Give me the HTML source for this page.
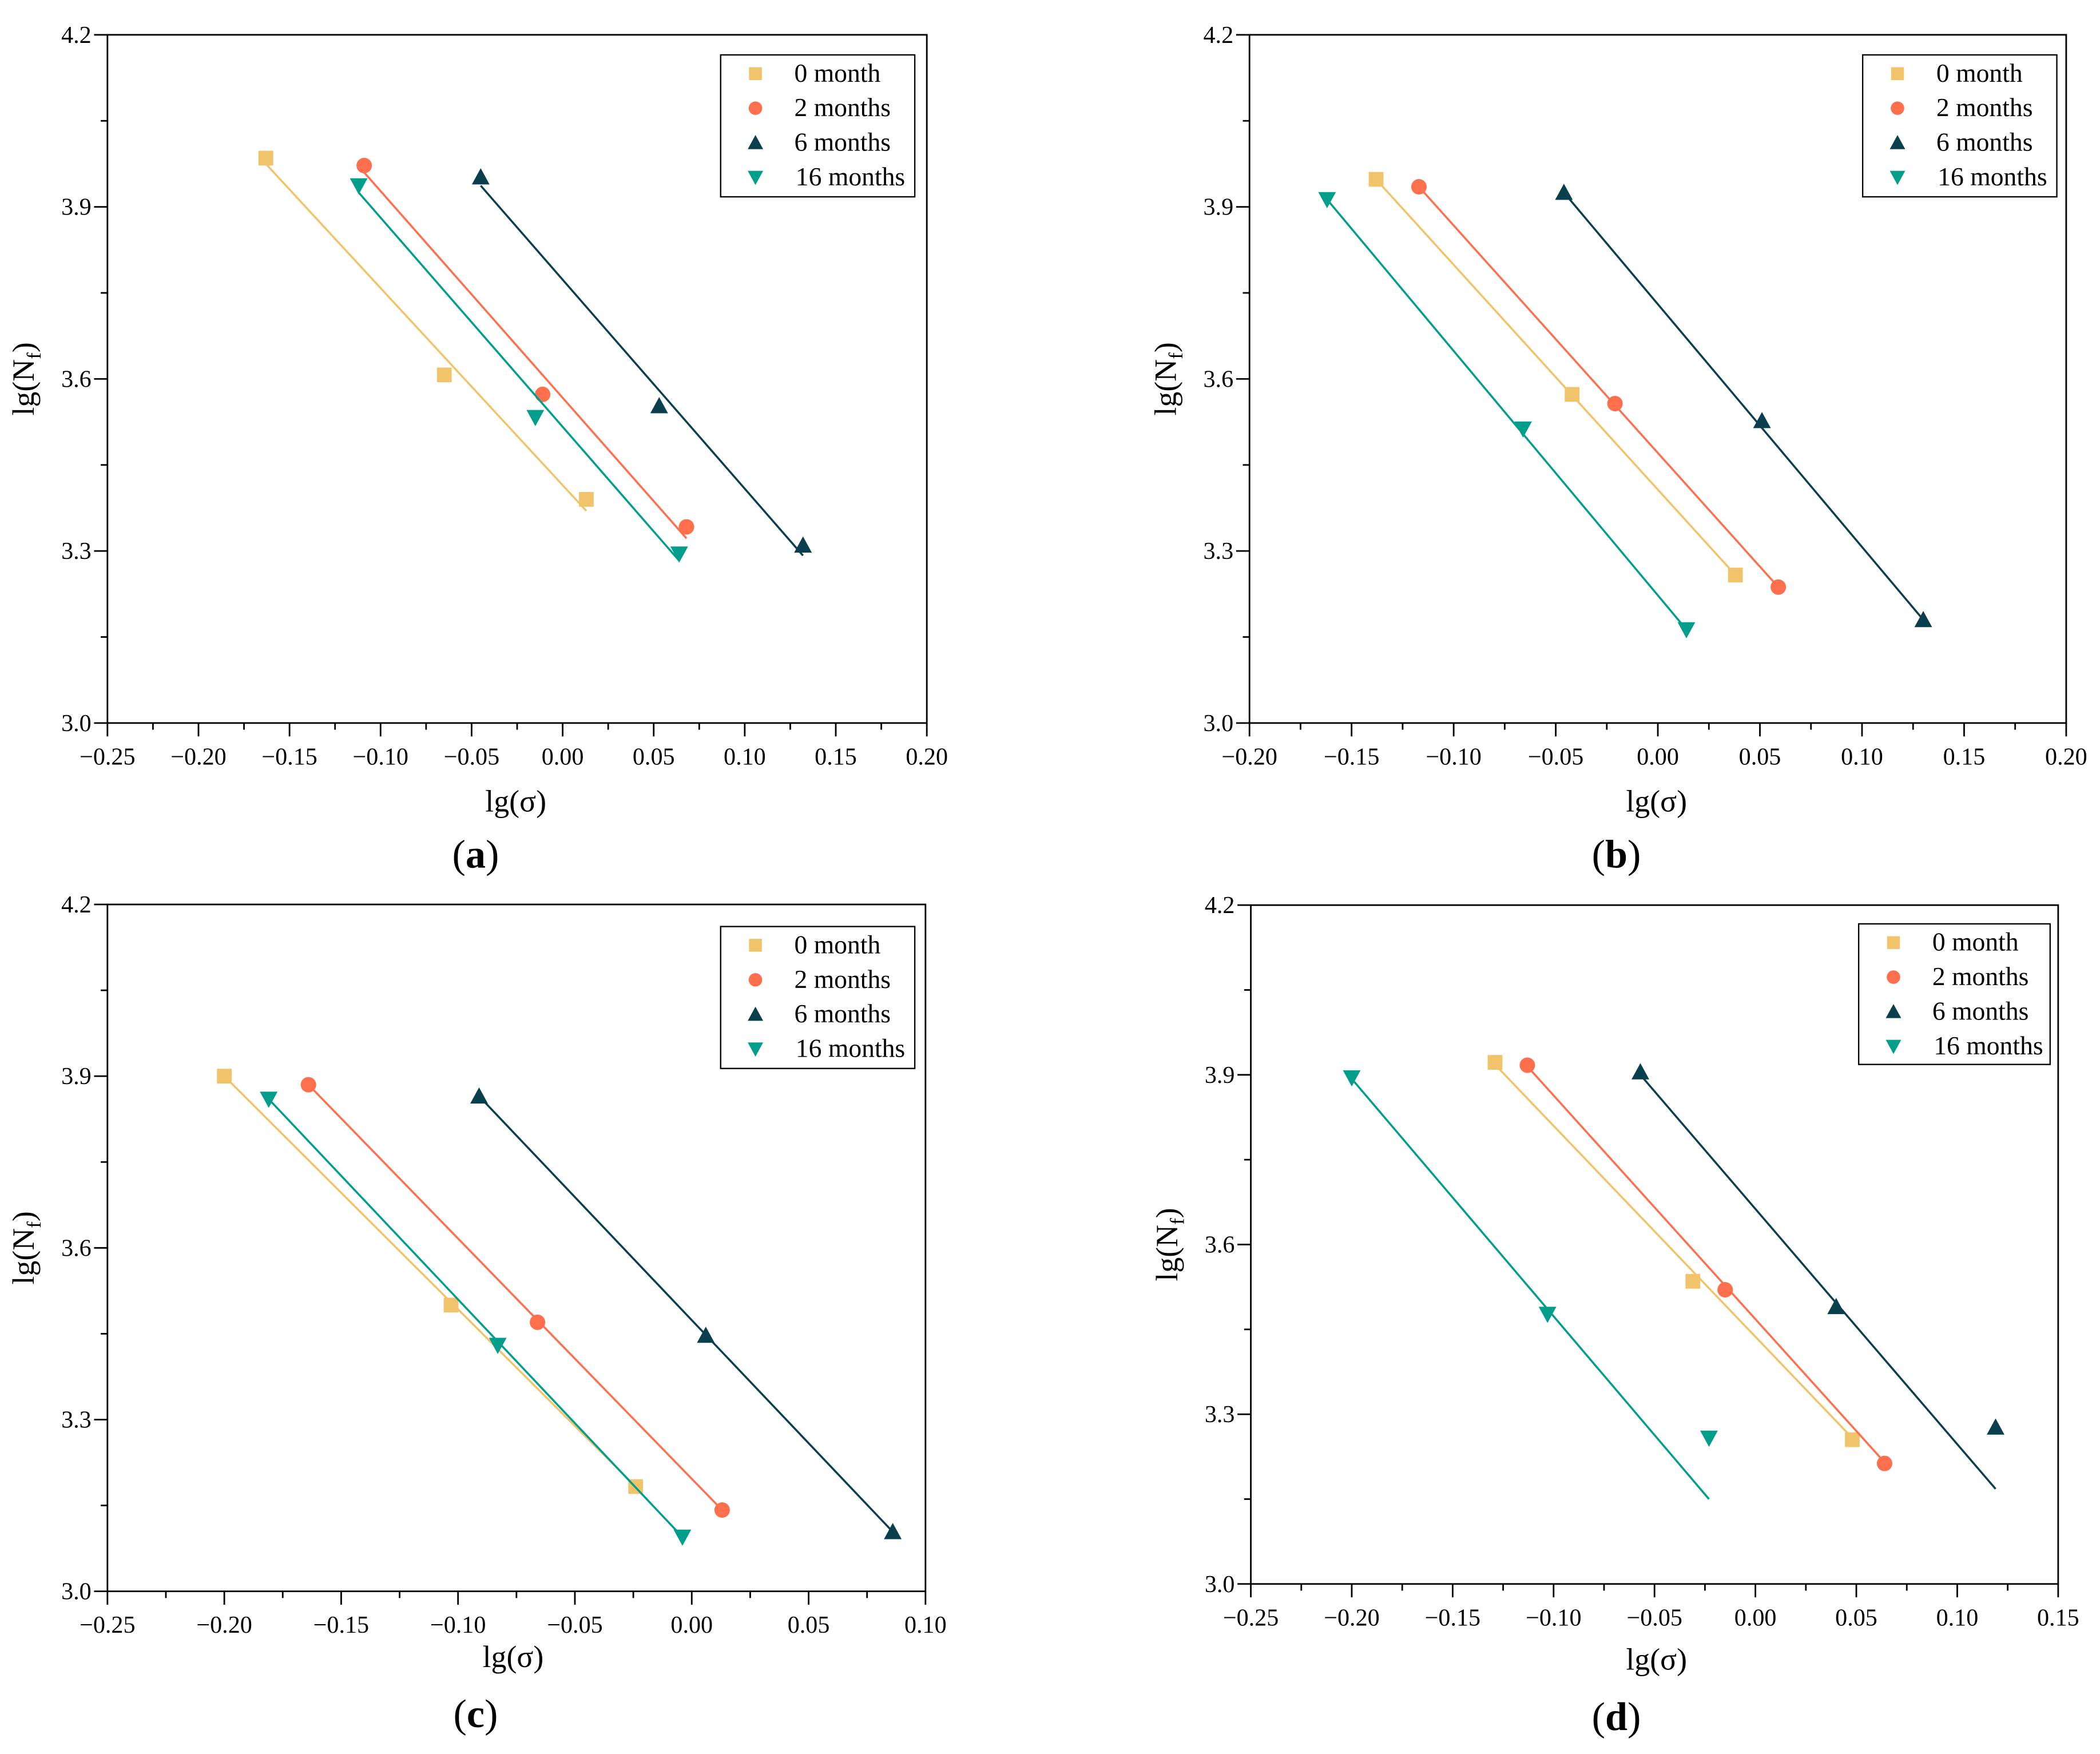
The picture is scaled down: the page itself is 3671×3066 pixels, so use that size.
<!DOCTYPE html>
<html><head><meta charset="utf-8"><style>
html,body{margin:0;padding:0;background:#fff;}
svg{display:block;}
svg text{font-family:"Liberation Serif","DejaVu Serif","Times New Roman",serif;}
</style></head><body>
<svg id="fig" width="3671" height="3066" viewBox="0 0 1568 1310" xmlns="http://www.w3.org/2000/svg"></svg>
<script>
const seriesNames = ["0 month","2 months","6 months","16 months"];
const seriesColors = ["#f1c36a","#fe6f4e","#0a3f4e","#009e8b"];
const seriesShapes = ["square","circle","up","down"];

// Panel (a)
const aX = [[-0.163,-0.065,0.013],[-0.109,-0.011,0.068],[-0.045,0.053,0.132],[-0.112,-0.015,0.064]];
const aY = [[3.985,3.607,3.390],[3.972,3.573,3.342],[3.952,3.553,3.310],[3.937,3.533,3.295]];
const aFit = [[3.975,3.370],[3.960,3.322],[3.937,3.292],[3.925,3.283]];
// Panel (b)
const bX = [[-0.138,-0.042,0.038],[-0.117,-0.021,0.059],[-0.046,0.051,0.130],[-0.162,-0.066,0.014]];
const bY = [[3.948,3.573,3.258],[3.935,3.557,3.237],[3.925,3.527,3.180],[3.913,3.513,3.163]];
const bFit = [[3.948,3.258],[3.935,3.237],[3.925,3.180],[3.913,3.163]];
// Panel (c)
const cX = [[-0.200,-0.103,-0.024],[-0.164,-0.066,0.013],[-0.091,0.006,0.086],[-0.181,-0.083,-0.004]];
const cY = [[3.900,3.500,3.183],[3.885,3.470,3.142],[3.865,3.447,3.104],[3.860,3.430,3.095]];
const cFit = [[3.900,3.183],[3.885,3.142],[3.865,3.104],[3.860,3.095]];
// Panel (d)
const dX = [[-0.129,-0.031,0.048],[-0.113,-0.015,0.064],[-0.057,0.040,0.119],[-0.200,-0.103,-0.023]];
const dY = [[3.922,3.535,3.255],[3.917,3.520,3.213],[3.905,3.490,3.277],[3.895,3.477,3.258]];
const dFit = [[3.918,3.258],[3.915,3.215],[3.900,3.168],[3.893,3.150]];

const xTicksA = ["−0.25","−0.20","−0.15","−0.10","−0.05","0.00","0.05","0.10","0.15","0.20"];
const xTicksB = ["−0.20","−0.15","−0.10","−0.05","0.00","0.05","0.10","0.15","0.20"];
const xTicksC = ["−0.25","−0.20","−0.15","−0.10","−0.05","0.00","0.05","0.10"];
const xTicksD = ["−0.25","−0.20","−0.15","−0.10","−0.05","0.00","0.05","0.10","0.15"];
const yTicks = ["3.0","3.3","3.6","3.9","4.2"];

const NS="http://www.w3.org/2000/svg";
const FF="'Liberation Serif', 'DejaVu Serif', 'Times New Roman', serif";
const fig=document.getElementById('fig');
function mk(tag,attrs,parent){const e=document.createElementNS(NS,tag);for(const k in attrs)e.setAttribute(k,attrs[k]);if(tag==='text')e.setAttribute('font-family',FF);(parent||fig).appendChild(e);return e;}
function marker(g,shape,cx,cy,color,s){
  let e;
  if(shape==="square") e=mk('rect',{x:cx-s,y:cy-s,width:2*s,height:2*s,fill:color},g);
  else if(shape==="circle") e=mk('circle',{cx:cx,cy:cy,r:s*1.05,fill:color},g);
  else if(shape==="up") e=mk('polygon',{points:`${cx-s*1.2},${cy+s} ${cx+s*1.2},${cy+s} ${cx},${cy-s*1.2}`,fill:color},g);
  else e=mk('polygon',{points:`${cx-s*1.2},${cy-s} ${cx+s*1.2},${cy-s} ${cx},${cy+s*1.2}`,fill:color},g);
  return e;
}
function panel(id,box,xmin,xmax,xt,X,Y,FIT,leg,xlab,cap){
  const g=mk('g',{});
  
  
  const [x0,x1,yt,yb]=box;
  const sx=v=>x0+(v-xmin)/(xmax-xmin)*(x1-x0);
  const sy=v=>yb-(v-3.0)/1.2*(yb-yt);
  const frame=mk('rect',{x:x0,y:yt,width:x1-x0,height:yb-yt,fill:'none',stroke:'#000','stroke-width':1.2},g);
  
  
  const xg=mk('g',{},g);
  
  
  for(let i=0;i<xt.length;i++){
    const v=xmin+i*0.05, px=sx(v);
    mk('line',{x1:px,y1:yb,x2:px,y2:yb+10,stroke:'#000','stroke-width':1.2},xg);
    if(i<xt.length-1){const pm=sx(v+0.025);mk('line',{x1:pm,y1:yb,x2:pm,y2:yb+5,stroke:'#000','stroke-width':1.2},xg);}
    const t=mk('text',{x:px,y:yb+31,'font-size':18,'text-anchor':'middle',fill:'#000'},xg);
    t.textContent=xt[i];
    
    
  }
  const yg=mk('g',{},g);
  
  
  for(let i=0;i<yTicks.length;i++){
    const v=3.0+i*0.3, py=sy(v);
    mk('line',{x1:x0-10,y1:py,x2:x0,y2:py,stroke:'#000','stroke-width':1.2},yg);
    if(i<yTicks.length-1){const pm=sy(v+0.15);mk('line',{x1:x0-5,y1:pm,x2:x0,y2:pm,stroke:'#000','stroke-width':1.2},yg);}
    const t=mk('text',{x:x0-12,y:py+6,'font-size':18,'text-anchor':'end',fill:'#000'},yg);
    t.textContent=yTicks[i];
    
    
  }
  const xl=mk('text',{x:xlab[0],y:xlab[1],'font-size':23,'text-anchor':'middle',fill:'#000'},g);
  xl.textContent='lg(σ)';
  
  
  const ylx=x0-55, yly=(yt+yb)/2;
  const yl=mk('text',{x:ylx,y:yly,'font-size':23,'text-anchor':'middle',fill:'#000',transform:`rotate(-90 ${ylx} ${yly})`},g);
  yl.innerHTML='lg(N<tspan font-size="15" dy="5">f</tspan><tspan dy="-5">)</tspan>';
  
  
  const cp=mk('text',{x:cap[0],y:cap[1],'font-size':30,'text-anchor':'middle',fill:'#000'},g);
  cp.innerHTML='(<tspan font-weight="bold">'+id+'</tspan>)';
  
  
  for(let s=0;s<4;s++){
    const sg=mk('g',{},g);
    
    
    const xs=X[s], ys=Y[s];
    const ln=mk('line',{x1:sx(xs[0]),y1:sy(FIT[s][0]),x2:sx(xs[xs.length-1]),y2:sy(FIT[s][1]),stroke:seriesColors[s],'stroke-width':1.5},sg);
    
    
    for(let i=0;i<xs.length;i++){
      const m=marker(sg,seriesShapes[s],sx(xs[i]),sy(ys[i]),seriesColors[s],5.5);
      
      
    }
  }
  const lg=mk('g',{},g);
  
  
  const [lx,ly,lw,lh]=leg;
  mk('rect',{x:lx,y:ly,width:lw,height:lh,fill:'#fff',stroke:'#000','stroke-width':1},lg);
  for(let s=0;s<4;s++){
    const ry=ly+14+s*25.8;
    const m=marker(lg,seriesShapes[s],lx+26,ry,seriesColors[s],4.8);
    
    
    const t=mk('text',{x:lx+(s===3?56:55),y:ry+6,'font-size':19.5,fill:'#000'},lg);
    t.textContent=seriesNames[s];
    
    
  }
}
panel('a',[80,692,26,540],-0.25,0.20,xTicksA,aX,aY,aFit,[538,41,145,106],[385,606],[355,648]);
panel('b',[933,1543,26,540],-0.20,0.20,xTicksB,bX,bY,bFit,[1391,41,145,106],[1237,606],[1207,648]);
panel('c',[80,691,675.5,1188.5],-0.25,0.10,xTicksC,cX,cY,cFit,[538,692,145,106],[383,1245],[355,1290]);
panel('d',[934,1537,676,1183],-0.25,0.15,xTicksD,dX,dY,dFit,[1388,690,143,105],[1237,1247],[1207,1292]);
</script>
</body></html>
